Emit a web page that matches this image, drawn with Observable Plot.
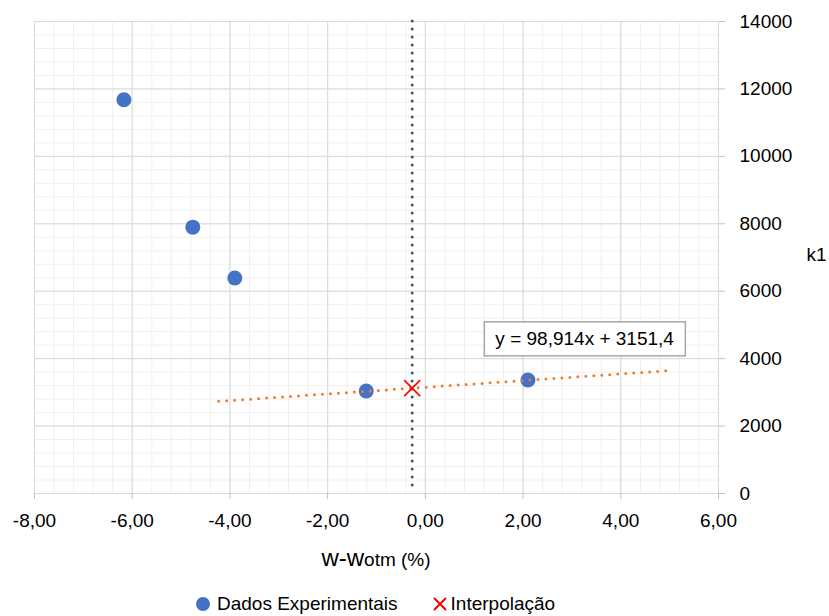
<!DOCTYPE html>
<html><head><meta charset="utf-8">
<script src="https://cdn.jsdelivr.net/npm/d3@7"></script>
<script src="https://cdn.jsdelivr.net/npm/@observablehq/plot@0.6"></script>
<style>
body{margin:0;background:#fff;font-family:"Liberation Sans",Arial,sans-serif;color:#000;}
#wrap{position:relative;width:829px;height:616px;overflow:hidden;}
#xlabel{position:absolute;left:0;width:752px;top:544px;text-align:center;font-size:19px;line-height:28px;white-space:nowrap;}
#xlabel .big{font-size:24px;}
#legend{position:absolute;left:195px;top:592px;height:24px;display:flex;align-items:center;font-size:19px;white-space:nowrap;}
#legend svg{display:block;}
</style></head><body>
<div id="wrap"><div id="chart"></div>
<div id="xlabel"><span class="big">w-w</span>otm (%)</div>
<div id="legend">
  <svg width="16" height="16"><circle cx="8" cy="8" r="7" fill="#4472C4"/></svg>
  <span style="margin-left:6px">Dados Experimentais</span>
  <svg width="16" height="16" style="margin-left:34px"><path d="M2,2L14,14M2,14L14,2" stroke="#FF0000" stroke-width="2" fill="none"/></svg>
  <span style="margin-left:3px">Interpolação</span>
</div>
</div>
<script>
const expX = [-6.17, -4.76, -3.90, -1.21, 2.10];
const expY = [11680, 7900, 6390, 3040, 3365];
// Interpolated point
const interpX = [-0.27];
const interpY = [3125];
// Linear trendline (y = 98,914x + 3151,4) endpoints
const trendX = [-4.23, 4.98];
const trendY = [2733, 3644];
const trendLabel = ["y = 98,914x + 3151,4"];
const trendLabelPos = [{x: 3.26, y: 4575}];
// Axis ticks
const xTicks = [-8, -6, -4, -2, 0, 2, 4, 6];
const yTicks = [0, 2000, 4000, 6000, 8000, 10000, 12000, 14000];
const xMinor = d3.range(-8, 6.001, 0.4).map(v => +v.toFixed(2));
const yMinor = d3.range(0, 14001, 400);

const exp = expX.map((x, i) => ({x, y: expY[i]}));
const interp = interpX.map((x, i) => ({x, y: interpY[i]}));
const trend = trendX.map((x, i) => ({x, y: trendY[i]}));

const fmtX = d => d.toFixed(2).replace(".", ",");

const chart = Plot.plot({
  width: 829,
  height: 540,
  marginLeft: 34,
  marginRight: 111,
  marginTop: 21,
  marginBottom: 47,
  style: {fontFamily: "'Liberation Sans', Arial, sans-serif", fontSize: "19px", color: "#000", background: "#fff"},
  x: {domain: [-8, 6]},
  y: {domain: [0, 14000]},
  marks: [
    Plot.ruleX(xMinor, {stroke: "#F0F0F0", strokeWidth: 1}),
    Plot.ruleY(yMinor, {stroke: "#F0F0F0", strokeWidth: 1}),
    Plot.ruleX(xTicks, {stroke: "#D9D9D9", strokeWidth: 1}),
    Plot.ruleY(yTicks, {stroke: "#D9D9D9", strokeWidth: 1}),
    Plot.axisX({ticks: xTicks, tickFormat: fmtX, tickSize: 6, tickPadding: 14, stroke: "#BFBFBF", label: null, fontSize: 19}),
    Plot.axisY({anchor: "right", ticks: yTicks, tickFormat: d => String(d), tickSize: 6, tickPadding: 15, stroke: "#BFBFBF", label: null, fontSize: 19}),
    Plot.ruleX(interpX, {stroke: "#44546A", strokeWidth: 3, strokeDasharray: "0 8", strokeLinecap: "round"}),
    Plot.dot(exp, {x: "x", y: "y", r: 7.5, fill: "#4472C4", stroke: "none"}),
    Plot.line(trend, {x: "x", y: "y", stroke: "#ED7D31", strokeWidth: 3, strokeDasharray: "0 8", strokeLinecap: "round"}),
    Plot.dot(interp, {x: "x", y: "y", symbol: "times", r: 7.3, stroke: "#FF0000", strokeWidth: 1.6}),
    Plot.text(trendLabel, {x: () => trendLabelPos[0].x, y: () => trendLabelPos[0].y, fontSize: 19, fill: "#000", textAnchor: "middle", lineAnchor: "middle", className: "trendlabel"}),
    Plot.text(["k1"], {frameAnchor: "right", dx: 98, dy: -3, textAnchor: "middle", fontSize: 19, fill: "#000"})
  ]
});
document.getElementById("chart").appendChild(chart);

// Draw the box around the trendline equation
const lbl = chart.querySelector(".trendlabel text");
if (lbl) {
  const bb = lbl.getBBox();
  const padX = 11, padY = 6.5;
  const rect = document.createElementNS("http://www.w3.org/2000/svg", "rect");
  rect.setAttribute("x", bb.x - padX);
  rect.setAttribute("y", bb.y - padY);
  rect.setAttribute("width", bb.width + 2 * padX);
  rect.setAttribute("height", bb.height + 2 * padY);
  rect.setAttribute("fill", "#fff");
  rect.setAttribute("stroke", "#A6A6A6");
  rect.setAttribute("stroke-width", "1.5");
  const t = lbl.getAttribute("transform");
  if (t) rect.setAttribute("transform", t);
  lbl.parentNode.insertBefore(rect, lbl);
}
</script>
</body></html>
